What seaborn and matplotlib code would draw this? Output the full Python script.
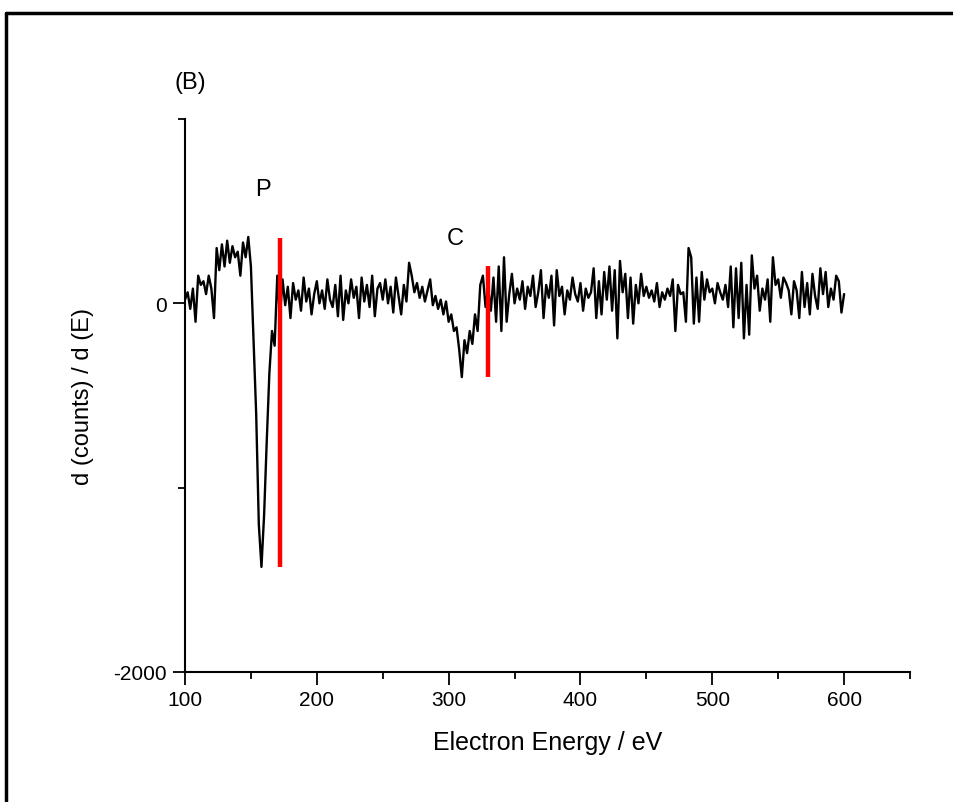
import numpy as np
import pandas as pd
import matplotlib
matplotlib.use("Agg")
import matplotlib.pyplot as plt
from matplotlib.lines import Line2D
import seaborn as sns

# ---- data ----
energy_start = 100
energy_step = 2
seg_pre = [20, 60, -30, 80, -100, 150, 100, 120, 50, 150, 80, -80, 300, 180, 320,
           200, 340, 220, 310, 250, 280, 150, 330, 250, 360]
seg_p = [200, -200, -600, -1200, -1430, -1150, -750, -380, -150, -230, 150]
seg_mid = [-70, 130, -10, 90, -80, 110, 20, 70, -40, 140,
           10, 80, -60, 50, 120, 0, 70, -30, 130, 20,
           -20, 100, -70, 150, -90, 70, 0, 130, 30, 90,
           -80, 140, 10, 100, -20, 150, -70, 80, 110, 20,
           130, 0, 90, -50, 140, 40, -60, 100, 10, 220,
           150, 60, 110, 30, 90, 10, 70, 130, -10, 40]
seg_c = [-30, 20, -60, 10, -100, -60, -150, -130, -250, -400,
         -200, -270, -150, -220, -60, -150, 100, 150, -20, 80]
seg_post = [-40, 140, -100, 200, -150, 250, -100, 50, 160, 0,
            80, 20, 120, -30, 90, 40, 150, -20, 60, 180,
            -80, 100, 30, 150, -120, 180, 40, 90, -60, 70,
            20, 140, 50, 10, 110, -40, 80, 30, 60, 190,
            -80, 120, -60, 170, 20, 200, -40, 180, -190, 230,
            60, 160, -80, 140, -110, 100, 0, 160, 40, 90,
            30, 70, 10, 110, -20, 60, 20, 80, 40, 130,
            -150, 100, 50, 60, -100, 300, 250, -110, 140, -100,
            170, 20, 130, 60, 80, 0, 110, 60, 20, 100,
            -20, 200, -130, 190, -80, 220, -190, 100, -170, 260,
            80, 150, -40, 80, 20, 130, -100, 250, 100, 130,
            30, 140, 110, 70, -60, 120, 70, -80, 170, -20,
            110, -60, 160, 40, -30, 190, 50, 170, -20, 80,
            20, 150, 120, -50, 50]

marker_energy = [172, 330]
marker_low = [-1432, -400]
marker_high = [357, 205]
peak_labels = ["P", "C"]
peak_label_x = [159, 305]
peak_label_y = [620, 355]

counts = seg_pre + seg_p + seg_mid + seg_c + seg_post
energy = np.arange(len(counts)) * energy_step + energy_start
df = pd.DataFrame({"Electron Energy": energy, "dN": counts})

# ---- style ----
sns.set_theme(style="ticks")
plt.rcParams["font.family"] = ["Liberation Sans", "DejaVu Sans"]
plt.rcParams["axes.unicode_minus"] = False
plt.rcParams["text.color"] = "black"
plt.rcParams["axes.labelcolor"] = "black"

fig = plt.figure(figsize=(9.54, 8.03), dpi=100)
ax = fig.add_axes([185 / 954, 1 - 673 / 803, (910 - 185) / 954, (673 - 120) / 803])

sns.lineplot(data=df, x="Electron Energy", y="dN", ax=ax, color="black",
             linewidth=1.7, estimator=None, sort=False)
ax.vlines(marker_energy, marker_low, marker_high, colors="#ff0000", linewidth=3.2)

for lab, lx, ly in zip(peak_labels, peak_label_x, peak_label_y):
    ax.text(lx, ly, lab, fontsize=17, ha="center", va="center", color="black")

ax.set_xlim(100, 650)
ax.set_ylim(-2000, 1000)
ax.set_xticks([100, 200, 300, 400, 500, 600])
ax.set_xticks([150, 250, 350, 450, 550, 650], minor=True)
ax.set_yticks([-2000, 0])
ax.set_yticks([-1000, 1000], minor=True)
ax.tick_params(axis="both", which="major", direction="out", length=9, width=1.3,
               labelsize=15, colors="black", pad=4)
ax.tick_params(axis="both", which="minor", direction="out", length=5, width=1.3,
               colors="black")
for s in ["top", "right"]:
    ax.spines[s].set_visible(False)
for s in ["left", "bottom"]:
    ax.spines[s].set_linewidth(1.5)
    ax.spines[s].set_color("black")

ax.set_xlabel("Electron Energy / eV", fontsize=18, labelpad=15, color="black")
ax.set_ylabel("d (counts) / d (E)", fontsize=17, labelpad=14, color="black")
fig.text(190 / 954, 1 - 83 / 803, "(B)", fontsize=17, ha="center", va="center", color="black")

# frame lines (top and left edges)
bx = 6.5 / 954
by = 1 - 13.5 / 803
fig.add_artist(Line2D([bx, 1.0], [by, by], transform=fig.transFigure, color="black", linewidth=2.5))
fig.add_artist(Line2D([bx, bx], [0.0, by], transform=fig.transFigure, color="black", linewidth=2.5))

fig.savefig("out.png", dpi=100, facecolor="white")
